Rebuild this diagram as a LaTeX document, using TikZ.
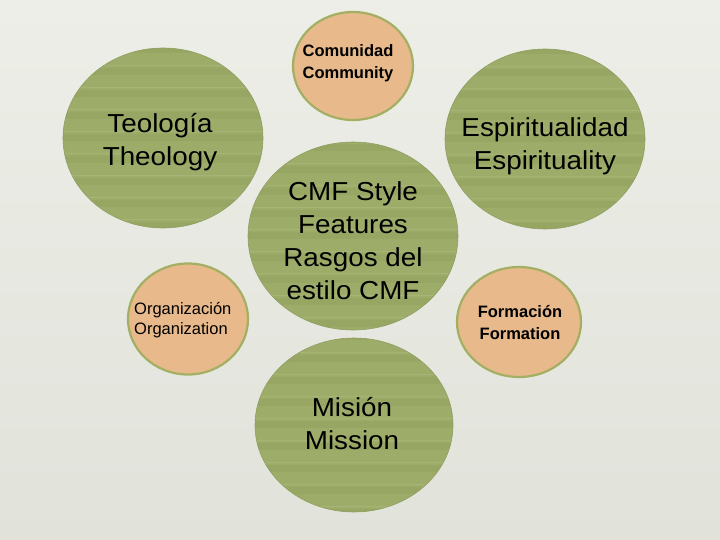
\documentclass[tikz,border=0pt]{standalone}
\usepackage{fontspec}
\setmainfont{Liberation Sans}
\newfontfamily\widefont{Liberation Sans}[FakeStretch=1.07]
\usetikzlibrary{shapes.geometric}
\definecolor{bgA}{HTML}{EDEEE7}
\definecolor{bgB}{HTML}{E1E3DB}
\definecolor{leaf}{HTML}{9DAC69}
\definecolor{leafdark}{HTML}{8C9C58}
\definecolor{leaflight}{HTML}{B4C08A}
\definecolor{tanfill}{HTML}{E8B98B}
\definecolor{rim}{HTML}{A3AF63}
\tikzset{
 greenblob/.style={ellipse, fill=leaf, draw=leaf!92!black, line width=0.6pt, inner sep=0pt,
   path picture={
   \foreach \k in {-6,...,6}{
     \fill[leafdark, opacity=0.3] ([yshift={\k*22pt-3pt}]path picture bounding box.center) ++(-150pt,0) rectangle ++(300pt,7pt);
     \fill[leaflight, opacity=0.4] ([yshift={\k*22pt+6pt}]path picture bounding box.center) ++(-150pt,0) rectangle ++(300pt,1pt);
   }}},
 tanblob/.style={ellipse, fill=tanfill, draw=rim, line width=2.2pt, inner sep=0pt},
 bigtext/.style={align=center, font=\widefont\fontsize{26}{33}\selectfont, inner sep=0pt},
 smalltext/.style={align=center, font=\fontsize{16.5}{22}\selectfont\bfseries, inner sep=0pt},
 thintext/.style={align=left, font=\fontsize{16.5}{20}\selectfont, inner sep=0pt},
}
\begin{document}
\begin{tikzpicture}[x=1pt,y=-1pt]
\shade[top color=bgA, bottom color=bgB] (0,0) rectangle (720,540);
\useasboundingbox (0,0) rectangle (720,540);

\node[greenblob, minimum width=200pt, minimum height=180pt] (teo) at (163,138) {};
\node[greenblob, minimum width=200pt, minimum height=180pt] (esp) at (545,139) {};
\node[greenblob, minimum width=210pt, minimum height=188pt] (cmf) at (353,236) {};
\node[greenblob, minimum width=198pt, minimum height=174pt] (mis) at (354,425) {};
\node[tanblob, minimum width=120pt, minimum height=108pt] (com) at (353,66) {};
\node[tanblob, minimum width=120pt, minimum height=111pt] (org) at (188,319) {};
\node[tanblob, minimum width=124pt, minimum height=110pt] (for) at (519,322) {};

\node[bigtext] (teoT) at (160,142) {Teología\\Theology};
\node[bigtext] (espT) at (545,146) {Espiritualidad\\Espirituality};
\node[bigtext] (cmfT) at (353,241) {CMF Style\\Features\\Rasgos del\\estilo CMF};
\node[bigtext] (misT) at (352,424) {Misión\\Mission};
\node[smalltext] (comT) at (348,63) {Comunidad\\Community};
\node[thintext, anchor=west] (orgT) at (134,320) {Organización\\Organization};
\node[smalltext] (forT) at (520,323) {Formación\\Formation};
\end{tikzpicture}
\end{document}
